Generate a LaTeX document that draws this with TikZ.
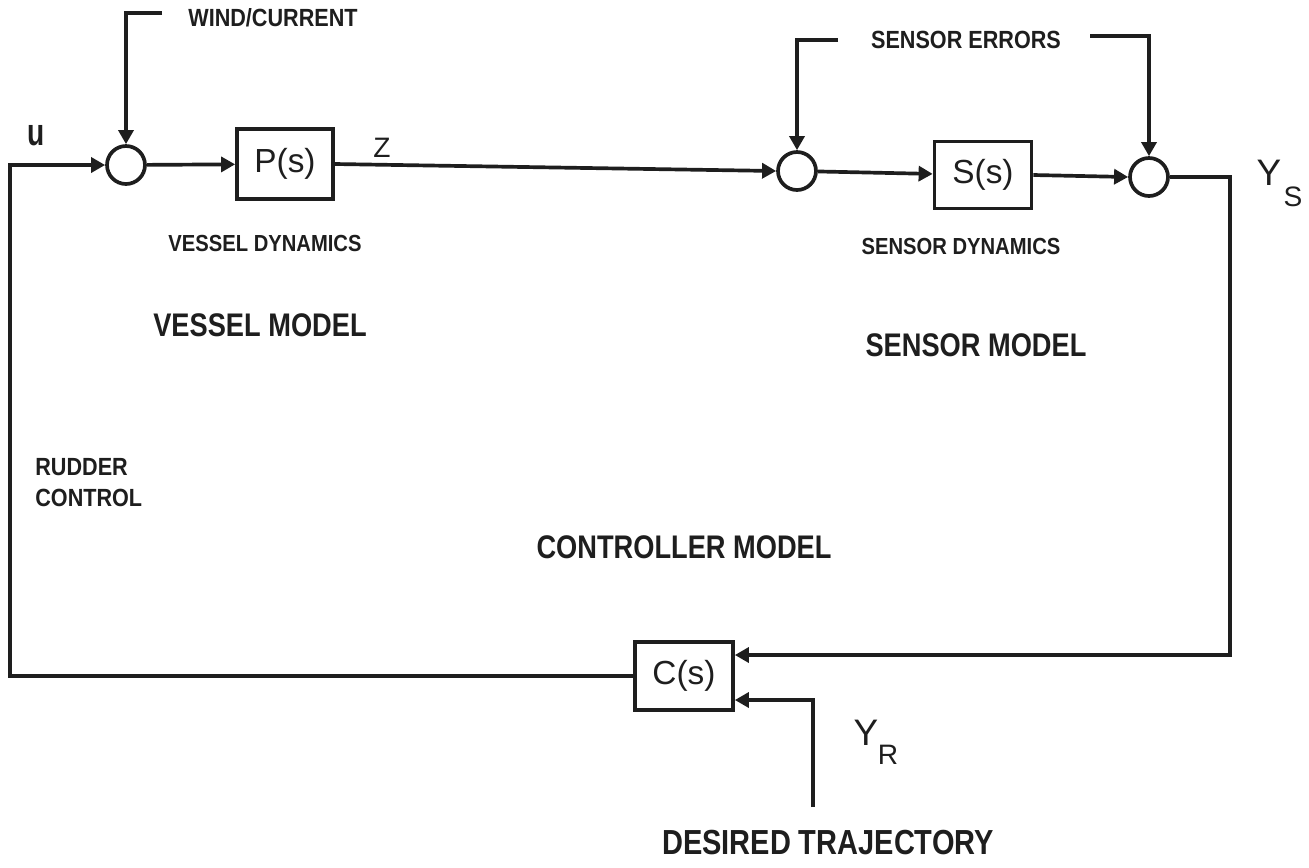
\documentclass[tikz,border=0pt]{standalone}
\usepackage{fontspec}
\setmainfont{Liberation Sans}
\usepackage{graphicx}
\usetikzlibrary{arrows.meta}
\definecolor{ink}{HTML}{1E1E1E}
\newcommand\vsc[2]{\scalebox{1}[#1]{#2}}
\begin{document}
\begin{tikzpicture}[x=0.02cm,y=-0.02cm,
  ln/.style={line width=2.1pt, draw=ink},
  arr/.style={ln,-{Triangle[length=8pt,width=8.5pt]}},
  sumj/.style={circle, draw=ink, line width=2.1pt, minimum size=0.76cm, inner sep=0pt},
  blk/.style={rectangle, draw=ink, line width=2.1pt, inner sep=0pt, text=ink, font=\fontsize{19}{19}\selectfont},
  small/.style={inner sep=0pt, text=ink, font=\bfseries\fontsize{12.3}{13}\selectfont},
  smaller/.style={inner sep=0pt, text=ink, font=\bfseries\fontsize{11.5}{12}\selectfont},
  big/.style={inner sep=0pt, text=ink, font=\bfseries\fontsize{15.5}{18}\selectfont},
  sym/.style={inner sep=0pt, text=ink, font=\fontsize{21}{22}\selectfont},
  subs/.style={inner sep=0pt, text=ink, font=\fontsize{16}{18}\selectfont}]
\fill[white] (0,0) rectangle (1309,867);
\useasboundingbox (0,0) rectangle (1309,867);

% blocks and junctions
\node[sumj] (s1) at (126,165) {};
\node[blk, minimum width=1.92cm, minimum height=1.4cm] (P) at (285,164) {P(s)};
\node[sumj] (s2) at (797,171) {};
\node[blk, minimum width=1.94cm, minimum height=1.34cm] (S) at (983,175) {S(s)};
\node[sumj] (s3) at (1149,177) {};
\node[blk, minimum width=1.96cm, minimum height=1.36cm] (C) at (684,676) {C(s)};

% free ends
\coordinate (w0) at (162,13);
\coordinate (se1) at (838,40);
\coordinate (se2) at (1090,36);
\coordinate (rb) at (1230,655);
\coordinate (lb) at (10,676);
\coordinate (yr0) at (813,807);
\coordinate (yrc) at (813,700);

% connectors
\draw[arr] (w0) -| (s1.north);
\draw[arr] (s1) -- (P);
\draw[arr] (P.east) -- (s2.west);
\draw[arr] (se1) -| (s2.north);
\draw[arr] (s2) -- (S);
\draw[arr] (S.east) -- (s3.west);
\draw[arr] (se2) -| (s3.north);
\draw[arr] (s3.east) -| (rb) -- (C.east |- rb);
\draw[arr] (yr0) -- (yrc) -- (C.east |- yrc);
\draw[arr] (C.west) -- (lb) |- (s1.west);

% labels
\node[small] (lw) at (273,18) {\vsc{1.15}{WIND/CURRENT}};
\node[small] (lse) at (966,40) {\vsc{1.15}{SENSOR ERRORS}};
\node[smaller] (lvd) at (265,243) {\vsc{1.15}{VESSEL DYNAMICS}};
\node[smaller] (lsd) at (961,246) {\vsc{1.15}{SENSOR DYNAMICS}};
\node[big] (lvm) at (260,325) {\vsc{1.2}{VESSEL MODEL}};
\node[big] (lsm) at (976,345) {\vsc{1.2}{SENSOR MODEL}};
\node[big] (lcm) at (684,547) {\vsc{1.2}{CONTROLLER MODEL}};
\node[big, font=\bfseries\fontsize{16.5}{18}\selectfont] (ldt) at (828,843) {\vsc{1.2}{DESIRED TRAJECTORY}};
\node[small, anchor=west] (lr1) at (35,467) {\vsc{1.15}{RUDDER}};
\node[small, anchor=west] (lr2) at (35,498) {\vsc{1.15}{CONTROL}};
\node[subs, font=\bfseries\fontsize{16}{18}\selectfont] (lu) at (36,136) {\vsc{1.35}{u}};
\node[subs] (lz) at (382,148) {Z};
\node[sym] (ly1) at (1269,173) {Y};
\node[subs] (ly2) at (1293,197) {S};
\node[sym] (ly3) at (866,733) {Y};
\node[subs] (ly4) at (888,755) {R};
\end{tikzpicture}
\end{document}
